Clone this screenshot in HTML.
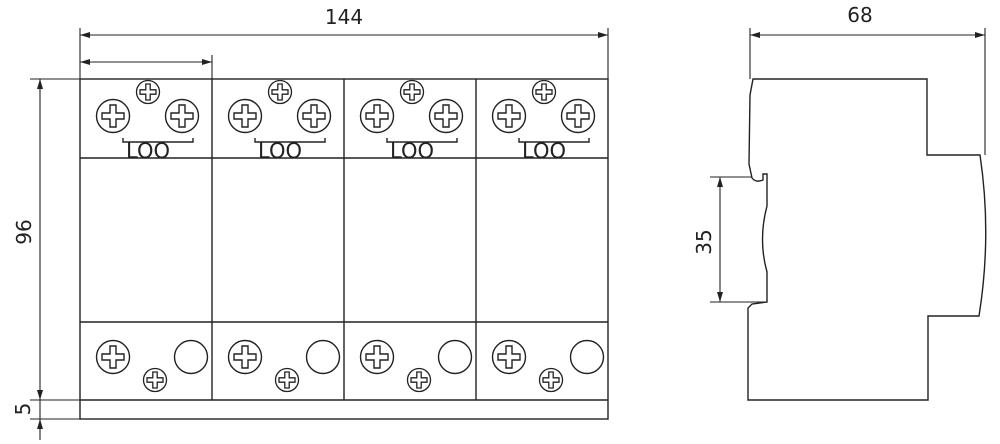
<!DOCTYPE html>
<html><head><meta charset="utf-8"><style>
html,body{margin:0;padding:0;background:#fff;}
svg{display:block;}
text{font-family:"DejaVu Sans","Liberation Sans",sans-serif;font-weight:normal;fill:#222;}
</style></head><body>
<svg width="1000" height="444" viewBox="0 0 1000 444" xmlns="http://www.w3.org/2000/svg">
<defs>
<marker id="a" viewBox="0 0 10 6" refX="10" refY="3" markerWidth="10" markerHeight="6" orient="auto-start-reverse" markerUnits="userSpaceOnUse"><path d="M0,0 L10,3 L0,6 Z" fill="#222"/></marker>
<g id="big"><circle r="16.5" fill="#fff" stroke="#222" stroke-width="1.4"/><path d="M-3,-11 H3 V-3 H11 V3 H3 V11 H-3 V3 H-11 V-3 H-3 Z" fill="none" stroke="#222" stroke-width="1.4"/></g>
<g id="sm"><circle r="11.5" fill="#fff" stroke="#222" stroke-width="1.3"/><path d="M-2.2,-8 H2.2 V-2.2 H8 V2.2 H2.2 V8 H-2.2 V2.2 H-8 V-2.2 H-2.2 Z" fill="none" stroke="#222" stroke-width="1.3"/></g>
<g id="mod">
<use href="#sm" x="68" y="92"/>
<use href="#big" x="33" y="116"/>
<use href="#big" x="102" y="116"/>
<path d="M43,138 V142 H113 V138" fill="none" stroke="#222" stroke-width="1.4"/>
<text x="68" y="158" font-size="21" text-anchor="middle" textLength="44" lengthAdjust="spacingAndGlyphs">LOO</text>
<use href="#big" x="33" y="357"/>
<use href="#sm" x="75" y="380"/>
<circle cx="111" cy="357" r="16.5" fill="none" stroke="#222" stroke-width="1.4"/>
</g>
</defs>
<g stroke="#222" stroke-width="1.4" fill="none">
<rect x="80" y="79" width="528" height="340"/>
<line x1="80" y1="158" x2="608" y2="158"/>
<line x1="80" y1="322" x2="608" y2="322"/>
<line x1="80" y1="400" x2="608" y2="400"/>
<line x1="212" y1="79" x2="212" y2="400"/>
<line x1="344" y1="79" x2="344" y2="400"/>
<line x1="476" y1="79" x2="476" y2="400"/>
</g>
<use href="#mod" x="80" y="0"/>
<use href="#mod" x="212" y="0"/>
<use href="#mod" x="344" y="0"/>
<use href="#mod" x="476" y="0"/>
<g stroke="#222" stroke-width="1.1" fill="none">
<line x1="80" y1="28" x2="80" y2="79"/>
<line x1="608" y1="28" x2="608" y2="79"/>
<line x1="212" y1="55" x2="212" y2="79"/>
<line x1="80" y1="35" x2="608" y2="35" marker-start="url(#a)" marker-end="url(#a)"/>
<line x1="80" y1="62" x2="212" y2="62" marker-start="url(#a)" marker-end="url(#a)"/>
<line x1="30" y1="79" x2="80" y2="79"/>
<line x1="30" y1="400" x2="80" y2="400"/>
<line x1="30" y1="419" x2="80" y2="419"/>
<line x1="40" y1="79" x2="40" y2="400" marker-start="url(#a)" marker-end="url(#a)"/>
<line x1="40" y1="440" x2="40" y2="419" marker-end="url(#a)"/>
<line x1="40" y1="400" x2="40" y2="419"/>
<line x1="750" y1="28" x2="750" y2="79"/>
<line x1="985" y1="28" x2="985" y2="155"/>
<line x1="750" y1="35" x2="985" y2="35" marker-start="url(#a)" marker-end="url(#a)"/>
<line x1="710" y1="177" x2="752" y2="177"/>
<line x1="710" y1="302" x2="767" y2="302"/>
<line x1="720" y1="177" x2="720" y2="302" marker-start="url(#a)" marker-end="url(#a)"/>
</g>
<g stroke="#222" stroke-width="1.4" fill="none">
<path d="M753,79 H927 V155 H980 Q992,235 979,316 H928 V400 H748 V308 L752,304 L767,302 V272 Q758,240 767,206 V174 H763 V180 Q756,183 752,178 L749,164 L750,95 Z"/>
</g>
<text x="344" y="24" font-size="20" text-anchor="middle">144</text>
<text x="860" y="22" font-size="20" text-anchor="middle">68</text>
<text transform="translate(31,232) rotate(-90)" font-size="20" text-anchor="middle">96</text>
<text transform="translate(30,409) rotate(-90)" font-size="20" text-anchor="middle">5</text>
<text transform="translate(711,242) rotate(-90)" font-size="20" text-anchor="middle">35</text>
</svg>
</body></html>
